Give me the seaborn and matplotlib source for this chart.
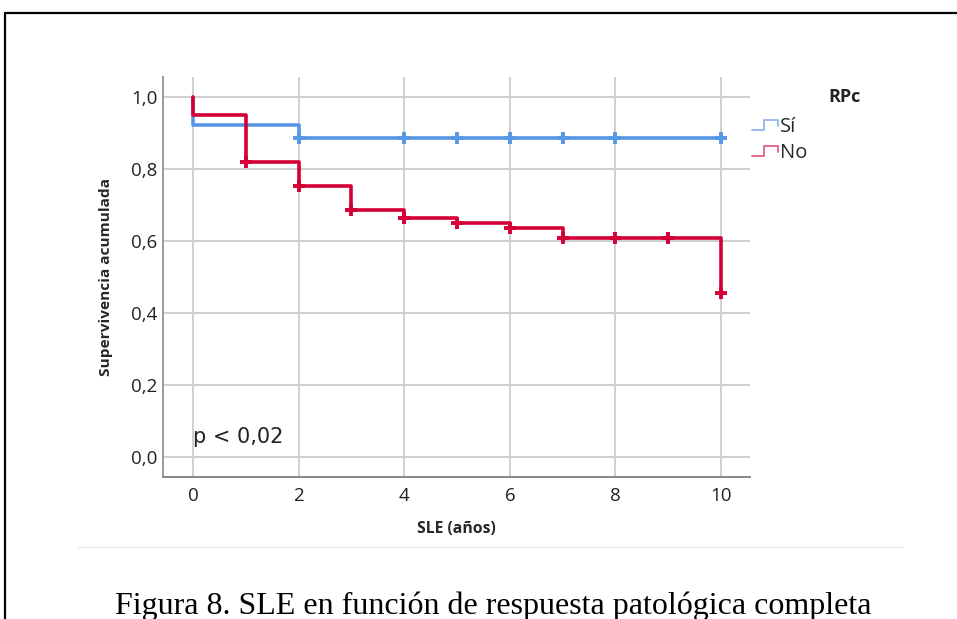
import numpy as np
import pandas as pd
import matplotlib
matplotlib.use("Agg")
import matplotlib.pyplot as plt
import seaborn as sns
from matplotlib.lines import Line2D
from matplotlib.legend_handler import HandlerBase

# ---- data ----
si_times = [0, 0, 2, 10]
si_surv = [1.0, 0.923, 0.885, 0.885]
si_censor = [2, 4, 5, 6, 7, 8, 10]

no_times = [0, 0, 1, 2, 3, 4, 5, 6, 7, 10]
no_surv = [1.0, 0.95, 0.82, 0.753, 0.686, 0.665, 0.651, 0.635, 0.607, 0.455]
no_censor = [1, 2, 3, 4, 5, 6, 7, 8, 9, 10]

groups = ["Sí", "No"]
x_ticks = [0, 2, 4, 6, 8, 10]
y_ticks = [0.0, 0.2, 0.4, 0.6, 0.8, 1.0]
y_ticklabels = ["0,0", "0,2", "0,4", "0,6", "0,8", "1,0"]

BLUE = "#5596E6"
RED = "#D40035"
colors = {"Sí": BLUE, "No": RED}
legend_colors = {"Sí": "#8CB8EE", "No": "#E06080"}


def surv_at(times, surv, t):
    val = surv[0]
    for ti, si in zip(times, surv):
        if ti <= t:
            val = si
    return val


curves = pd.DataFrame({
    "t": si_times + no_times,
    "s": si_surv + no_surv,
    "g": ["Sí"] * len(si_times) + ["No"] * len(no_times),
})
cens = pd.DataFrame({
    "t": si_censor + no_censor,
    "s": [surv_at(si_times, si_surv, t) for t in si_censor]
    + [surv_at(no_times, no_surv, t) for t in no_censor],
    "g": ["Sí"] * len(si_censor) + ["No"] * len(no_censor),
})

sns.set_theme(style="white")
plt.rcParams["font.family"] = ["Open Sans", "DejaVu Sans"]

W, H = 957, 619
fig = plt.figure(figsize=(W / 100, H / 100), dpi=100)
ax = fig.add_axes([163 / W, 1 - 477 / H, (750 - 163) / W, (477 - 77) / H])

ax.grid(True, color="#cfcfcf", linewidth=1.4)
ax.set_axisbelow(True)

for g in groups:
    sub = curves[curves.g == g]
    sns.lineplot(data=sub, x="t", y="s", estimator=None, sort=False,
                 drawstyle="steps-post", color=colors[g], linewidth=2.6,
                 ax=ax, legend=False, zorder=3 if g == "No" else 2)
    csub = cens[cens.g == g]
    sns.scatterplot(data=csub, x="t", y="s", marker="+", s=70,
                    color=colors[g], linewidth=2.8, ax=ax, legend=False,
                    zorder=4)

ax.set_xlim(-0.57, 10.55)
ax.set_ylim(-0.0556, 1.0556)
ax.set_xticks(x_ticks)
ax.set_xticklabels([str(v) for v in x_ticks])
ax.set_yticks(y_ticks)
ax.set_yticklabels(y_ticklabels)
ax.tick_params(axis="both", length=0, labelsize=13.5, colors="#222222")
ax.tick_params(axis="x", pad=7)
ax.tick_params(axis="y", pad=4)

for side in ["top", "right"]:
    ax.spines[side].set_visible(False)
ax.spines["left"].set_color("#999999")
ax.spines["left"].set_linewidth(1.4)
ax.spines["bottom"].set_color("#888888")
ax.spines["bottom"].set_linewidth(1.4)

ax.set_xlabel("SLE (años)", fontsize=11.3, fontweight="bold", labelpad=12)
ax.set_ylabel("Supervivencia acumulada", fontsize=11.1, fontweight="bold",
              labelpad=13)

ax.text(0, 0.055, "p < 0,02", fontsize=15, ha="left", va="center",
        color="#222222", family=["DejaVu Sans"])


class StepHandler(HandlerBase):
    def create_artists(self, legend, orig_handle, xdescent, ydescent,
                       width, height, fontsize, trans):
        lo = -ydescent + height * 0.15
        hi = -ydescent + height * 0.85
        x0 = -xdescent
        xs = [x0, x0 + 0.45 * width, x0 + 0.45 * width, x0 + width, x0 + width]
        ys = [lo, lo, hi, hi, lo + (hi - lo) * 0.35]
        ln = Line2D(xs, ys, color=orig_handle.get_color(), linewidth=1.3,
                    transform=trans)
        return [ln]


handles = [Line2D([], [], color=legend_colors[g]) for g in groups]
fig.legend(handles, groups, handler_map={Line2D: StepHandler()},
           loc="upper left", bbox_to_anchor=(752 / W, 1 - 117 / H),
           frameon=False, borderpad=0, borderaxespad=0, handlelength=1.3,
           handletextpad=0.1, labelspacing=0.3, fontsize=14.5)
fig.text(845 / W, 1 - 97 / H, "RPc", fontsize=13, fontweight="bold",
         ha="center", va="center", color="#222222")

# decorations: page border and separator
fig.add_artist(Line2D([5 / W, 5 / W], [0, 1 - 13 / H], transform=fig.transFigure,
                      color="black", linewidth=1.6))
fig.add_artist(Line2D([5 / W, 1], [1 - 13 / H, 1 - 13 / H],
                      transform=fig.transFigure, color="black", linewidth=1.6))
fig.add_artist(Line2D([78 / W, 903 / W], [1 - 547 / H, 1 - 547 / H],
                      transform=fig.transFigure, color="#e8e8e8", linewidth=1.0))

fig.text(493 / W, 1 - 606 / H,
         "Figura 8. SLE en función de respuesta patológica completa",
         fontsize=23, ha="center", va="center", color="black",
         family=["Liberation Serif", "DejaVu Serif"])

fig.savefig("out.png", dpi=100)
